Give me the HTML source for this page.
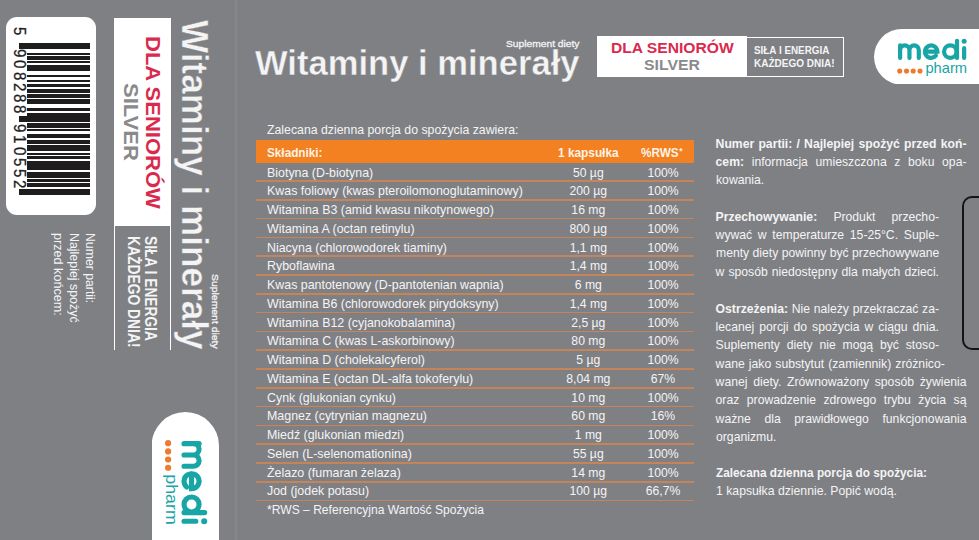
<!DOCTYPE html>
<html><head><meta charset="utf-8"><style>
html,body{margin:0;padding:0;width:979px;height:540px;overflow:hidden;background:#7f8084;font-family:"Liberation Sans", sans-serif;}
b{font-weight:700;}
</style></head><body><div style="position:relative;width:979px;height:540px;overflow:hidden;">
<div style='position:absolute;left:0.00px;top:0.00px;width:979.00px;height:540.00px;background:#7f8084;'></div><div style='position:absolute;left:235.40px;top:0.00px;width:2.00px;height:540.00px;background:#88868c;'></div><div style='position:absolute;left:5.50px;top:17.20px;width:90.70px;height:197.70px;background:#ffffff;border-radius:11px;'></div><div style='position:absolute;left:19.40px;top:42.98px;width:70.40px;height:2.24px;background:#1e1c1d;'></div><div style='position:absolute;left:19.40px;top:46.17px;width:70.40px;height:2.24px;background:#1e1c1d;'></div><div style='position:absolute;left:27.20px;top:52.56px;width:62.60px;height:2.24px;background:#1e1c1d;'></div><div style='position:absolute;left:27.20px;top:55.75px;width:62.60px;height:3.83px;background:#1e1c1d;'></div><div style='position:absolute;left:27.20px;top:60.54px;width:62.60px;height:2.24px;background:#1e1c1d;'></div><div style='position:absolute;left:27.20px;top:65.32px;width:62.60px;height:5.43px;background:#1e1c1d;'></div><div style='position:absolute;left:27.20px;top:74.90px;width:62.60px;height:2.24px;background:#1e1c1d;'></div><div style='position:absolute;left:27.20px;top:79.69px;width:62.60px;height:2.24px;background:#1e1c1d;'></div><div style='position:absolute;left:27.20px;top:84.48px;width:62.60px;height:2.24px;background:#1e1c1d;'></div><div style='position:absolute;left:27.20px;top:89.26px;width:62.60px;height:3.83px;background:#1e1c1d;'></div><div style='position:absolute;left:27.20px;top:94.05px;width:62.60px;height:3.83px;background:#1e1c1d;'></div><div style='position:absolute;left:27.20px;top:98.84px;width:62.60px;height:5.43px;background:#1e1c1d;'></div><div style='position:absolute;left:27.20px;top:108.42px;width:62.60px;height:2.24px;background:#1e1c1d;'></div><div style='position:absolute;left:27.20px;top:113.20px;width:62.60px;height:2.24px;background:#1e1c1d;'></div><div style='position:absolute;left:19.40px;top:116.40px;width:70.40px;height:2.24px;background:#1e1c1d;'></div><div style='position:absolute;left:19.40px;top:119.59px;width:70.40px;height:2.24px;background:#1e1c1d;'></div><div style='position:absolute;left:27.20px;top:122.78px;width:62.60px;height:5.43px;background:#1e1c1d;'></div><div style='position:absolute;left:27.20px;top:129.16px;width:62.60px;height:2.24px;background:#1e1c1d;'></div><div style='position:absolute;left:27.20px;top:133.95px;width:62.60px;height:3.83px;background:#1e1c1d;'></div><div style='position:absolute;left:27.20px;top:140.34px;width:62.60px;height:3.83px;background:#1e1c1d;'></div><div style='position:absolute;left:27.20px;top:145.12px;width:62.60px;height:5.43px;background:#1e1c1d;'></div><div style='position:absolute;left:27.20px;top:153.10px;width:62.60px;height:2.24px;background:#1e1c1d;'></div><div style='position:absolute;left:27.20px;top:156.30px;width:62.60px;height:2.24px;background:#1e1c1d;'></div><div style='position:absolute;left:27.20px;top:161.08px;width:62.60px;height:5.43px;background:#1e1c1d;'></div><div style='position:absolute;left:27.20px;top:167.47px;width:62.60px;height:2.24px;background:#1e1c1d;'></div><div style='position:absolute;left:27.20px;top:172.26px;width:62.60px;height:5.43px;background:#1e1c1d;'></div><div style='position:absolute;left:27.20px;top:178.64px;width:62.60px;height:3.83px;background:#1e1c1d;'></div><div style='position:absolute;left:27.20px;top:183.43px;width:62.60px;height:3.83px;background:#1e1c1d;'></div><div style='position:absolute;left:19.40px;top:189.81px;width:70.40px;height:2.24px;background:#1e1c1d;'></div><div style='position:absolute;left:19.40px;top:193.00px;width:70.40px;height:2.24px;background:#1e1c1d;'></div><div style='position:absolute;left:19.40px;top:43.10px;width:70.40px;height:5.60px;background:#1e1c1d;'></div><div style='position:absolute;left:27.20px;top:113.30px;width:62.60px;height:8.20px;background:#1e1c1d;'></div><div style='position:absolute;left:19.40px;top:116.00px;width:70.40px;height:5.50px;background:#1e1c1d;'></div><div style='position:absolute;left:19.40px;top:189.20px;width:70.40px;height:5.50px;background:#1e1c1d;'></div><div style='position:absolute;left:505.50px;top:38.03px;font-size:9.8px;font-weight:400;color:#f4f4f4;white-space:pre;line-height:normal;transform:scaleX(1.0460);transform-origin:0 0;-webkit-text-stroke:0.3px #f4f4f4;'>Suplement diety</div><div style='position:absolute;left:255.40px;top:43.08px;font-size:35.6px;font-weight:700;color:#f4f4f4;white-space:pre;line-height:normal;transform:scaleX(0.9721);transform-origin:0 0;-webkit-text-stroke:0.4px #7f8084;'>Witaminy i minerały</div><div style='position:absolute;left:596.80px;top:36.10px;width:150.30px;height:40.80px;background:#ffffff;'></div><div style='position:absolute;left:747.10px;top:36.60px;width:97.10px;height:40.50px;background:transparent;box-sizing:border-box;border:1.5px solid #fff;border-left:none;'></div><div style='position:absolute;left:610.50px;top:39.78px;font-size:14.5px;font-weight:700;color:#d92a4e;white-space:pre;line-height:normal;transform:scaleX(1.0776);transform-origin:0 0;'>DLA SENIORÓW</div><div style='position:absolute;left:643.80px;top:56.75px;font-size:14.2px;font-weight:700;color:#8a8a8c;white-space:pre;line-height:normal;transform:scaleX(1.1135);transform-origin:0 0;'>SILVER</div><div style='position:absolute;left:754.40px;top:43.81px;font-size:10.6px;font-weight:700;color:#f4f4f4;white-space:pre;line-height:normal;transform:scaleX(0.9327);transform-origin:0 0;'>SIŁA I ENERGIA</div><div style='position:absolute;left:754.40px;top:57.21px;font-size:10.6px;font-weight:700;color:#f4f4f4;white-space:pre;line-height:normal;transform:scaleX(0.9456);transform-origin:0 0;'>KAŻDEGO DNIA!</div><svg style='position:absolute;left:873.90px;top:28.60px;overflow:hidden' width='120.00' height='55.60' viewBox='0 0 120 55.6'><path d='M27.8,0 H200 V55.6 H27.8 A27.8,27.8 0 0 1 27.8,0 Z' fill='#fff'/><g fill='none' stroke='#17a5a6' stroke-width='4.2' stroke-linecap='round'><path d='M26.1,28.9 V16.4 M26.1,21.1 A4.675,4.675 0 0 1 35.45,21.1 V28.9 M35.45,21.1 A4.675,4.675 0 0 1 44.8,21.1 V28.9'/><path d='M50.95,22.65 H63.35 A6.2,6.2 0 1 0 61.9,26.64'/><circle cx='76.3' cy='22.65' r='6.2'/><path d='M83.0,11.8 V28.9 M90.15,19.1 V28.9'/></g><circle cx='90.15' cy='12.2' r='2.5' fill='#17a5a6'/><circle cx='25.7' cy='42.0' r='2.55' fill='#ef7a2e'/><circle cx='32.5' cy='42.0' r='2.55' fill='#ef7a2e'/><circle cx='39.2' cy='42.0' r='2.55' fill='#ef7a2e'/><circle cx='46.0' cy='42.0' r='2.55' fill='#ef7a2e'/><text x='51.4' y='43.7' font-family='Liberation Sans' font-size='14' fill='#17a5a6' textLength='41.6' lengthAdjust='spacingAndGlyphs'>pharm</text></svg><div style='position:absolute;left:266.50px;top:122.53px;font-size:12.4px;font-weight:400;color:#f4f4f4;white-space:pre;line-height:normal;transform:scaleX(0.9922);transform-origin:0 0;'>Zalecana dzienna porcja do spożycia zawiera:</div><div style='position:absolute;left:256.10px;top:140.20px;width:437.60px;height:22.80px;background:#f38021;'></div><div style='position:absolute;left:266.50px;top:145.98px;font-size:12.4px;font-weight:700;color:#fdf3e6;white-space:pre;line-height:normal;transform:scaleX(0.9482);transform-origin:0 0;'>Składniki:</div><div style='position:absolute;left:557.70px;top:145.98px;font-size:12.4px;font-weight:700;color:#fdf3e6;white-space:pre;line-height:normal;transform:scaleX(0.9562);transform-origin:0 0;'>1 kapsułka</div><div style='position:absolute;left:641.30px;top:145.98px;font-size:12.4px;font-weight:700;color:#fdf3e6;white-space:pre;line-height:normal;transform:scaleX(0.9470);transform-origin:0 0;'>%RWS</div><div style='position:absolute;left:679.20px;top:145.91px;font-size:8.5px;font-weight:700;color:#fdf3e6;white-space:pre;line-height:normal;'>*</div><div style='position:absolute;left:266.80px;top:165.56px;font-size:12.2px;font-weight:400;color:#f4f4f4;white-space:pre;line-height:normal;transform:scaleX(1.018);transform-origin:0 0;'>Biotyna (D-biotyna)</div><div style='position:absolute;left:588.30px;top:165.56px;font-size:12.2px;font-weight:400;color:#f4f4f4;white-space:pre;line-height:normal;transform:translateX(-50%);'>50 µg</div><div style='position:absolute;left:663.00px;top:165.56px;font-size:12.2px;font-weight:400;color:#f4f4f4;white-space:pre;line-height:normal;transform:translateX(-50%);'>100%</div><div style='position:absolute;left:256.10px;top:180.10px;width:437.60px;height:1.80px;background:#c6845a;'></div><div style='position:absolute;left:266.80px;top:184.31px;font-size:12.2px;font-weight:400;color:#f4f4f4;white-space:pre;line-height:normal;transform:scaleX(1.018);transform-origin:0 0;'>Kwas foliowy (kwas pteroilomonoglutaminowy)</div><div style='position:absolute;left:588.30px;top:184.31px;font-size:12.2px;font-weight:400;color:#f4f4f4;white-space:pre;line-height:normal;transform:translateX(-50%);'>200 µg</div><div style='position:absolute;left:663.00px;top:184.31px;font-size:12.2px;font-weight:400;color:#f4f4f4;white-space:pre;line-height:normal;transform:translateX(-50%);'>100%</div><div style='position:absolute;left:256.10px;top:198.90px;width:437.60px;height:1.80px;background:#c6845a;'></div><div style='position:absolute;left:266.80px;top:203.06px;font-size:12.2px;font-weight:400;color:#f4f4f4;white-space:pre;line-height:normal;transform:scaleX(1.018);transform-origin:0 0;'>Witamina B3 (amid kwasu nikotynowego)</div><div style='position:absolute;left:588.30px;top:203.06px;font-size:12.2px;font-weight:400;color:#f4f4f4;white-space:pre;line-height:normal;transform:translateX(-50%);'>16 mg</div><div style='position:absolute;left:663.00px;top:203.06px;font-size:12.2px;font-weight:400;color:#f4f4f4;white-space:pre;line-height:normal;transform:translateX(-50%);'>100%</div><div style='position:absolute;left:256.10px;top:217.70px;width:437.60px;height:1.80px;background:#c6845a;'></div><div style='position:absolute;left:266.80px;top:221.81px;font-size:12.2px;font-weight:400;color:#f4f4f4;white-space:pre;line-height:normal;transform:scaleX(1.018);transform-origin:0 0;'>Witamina A (octan retinylu)</div><div style='position:absolute;left:588.30px;top:221.81px;font-size:12.2px;font-weight:400;color:#f4f4f4;white-space:pre;line-height:normal;transform:translateX(-50%);'>800 µg</div><div style='position:absolute;left:663.00px;top:221.81px;font-size:12.2px;font-weight:400;color:#f4f4f4;white-space:pre;line-height:normal;transform:translateX(-50%);'>100%</div><div style='position:absolute;left:256.10px;top:236.50px;width:437.60px;height:1.80px;background:#c6845a;'></div><div style='position:absolute;left:266.80px;top:240.56px;font-size:12.2px;font-weight:400;color:#f4f4f4;white-space:pre;line-height:normal;transform:scaleX(1.018);transform-origin:0 0;'>Niacyna (chlorowodorek tiaminy)</div><div style='position:absolute;left:588.30px;top:240.56px;font-size:12.2px;font-weight:400;color:#f4f4f4;white-space:pre;line-height:normal;transform:translateX(-50%);'>1,1 mg</div><div style='position:absolute;left:663.00px;top:240.56px;font-size:12.2px;font-weight:400;color:#f4f4f4;white-space:pre;line-height:normal;transform:translateX(-50%);'>100%</div><div style='position:absolute;left:256.10px;top:255.30px;width:437.60px;height:1.80px;background:#c6845a;'></div><div style='position:absolute;left:266.80px;top:259.31px;font-size:12.2px;font-weight:400;color:#f4f4f4;white-space:pre;line-height:normal;transform:scaleX(1.018);transform-origin:0 0;'>Ryboflawina</div><div style='position:absolute;left:588.30px;top:259.31px;font-size:12.2px;font-weight:400;color:#f4f4f4;white-space:pre;line-height:normal;transform:translateX(-50%);'>1,4 mg</div><div style='position:absolute;left:663.00px;top:259.31px;font-size:12.2px;font-weight:400;color:#f4f4f4;white-space:pre;line-height:normal;transform:translateX(-50%);'>100%</div><div style='position:absolute;left:256.10px;top:274.10px;width:437.60px;height:1.80px;background:#c6845a;'></div><div style='position:absolute;left:266.80px;top:278.06px;font-size:12.2px;font-weight:400;color:#f4f4f4;white-space:pre;line-height:normal;transform:scaleX(1.018);transform-origin:0 0;'>Kwas pantotenowy (D-pantotenian wapnia)</div><div style='position:absolute;left:588.30px;top:278.06px;font-size:12.2px;font-weight:400;color:#f4f4f4;white-space:pre;line-height:normal;transform:translateX(-50%);'>6 mg</div><div style='position:absolute;left:663.00px;top:278.06px;font-size:12.2px;font-weight:400;color:#f4f4f4;white-space:pre;line-height:normal;transform:translateX(-50%);'>100%</div><div style='position:absolute;left:256.10px;top:292.90px;width:437.60px;height:1.80px;background:#c6845a;'></div><div style='position:absolute;left:266.80px;top:296.81px;font-size:12.2px;font-weight:400;color:#f4f4f4;white-space:pre;line-height:normal;transform:scaleX(1.018);transform-origin:0 0;'>Witamina B6 (chlorowodorek pirydoksyny)</div><div style='position:absolute;left:588.30px;top:296.81px;font-size:12.2px;font-weight:400;color:#f4f4f4;white-space:pre;line-height:normal;transform:translateX(-50%);'>1,4 mg</div><div style='position:absolute;left:663.00px;top:296.81px;font-size:12.2px;font-weight:400;color:#f4f4f4;white-space:pre;line-height:normal;transform:translateX(-50%);'>100%</div><div style='position:absolute;left:256.10px;top:311.70px;width:437.60px;height:1.80px;background:#c6845a;'></div><div style='position:absolute;left:266.80px;top:315.56px;font-size:12.2px;font-weight:400;color:#f4f4f4;white-space:pre;line-height:normal;transform:scaleX(1.018);transform-origin:0 0;'>Witamina B12 (cyjanokobalamina)</div><div style='position:absolute;left:588.30px;top:315.56px;font-size:12.2px;font-weight:400;color:#f4f4f4;white-space:pre;line-height:normal;transform:translateX(-50%);'>2,5 µg</div><div style='position:absolute;left:663.00px;top:315.56px;font-size:12.2px;font-weight:400;color:#f4f4f4;white-space:pre;line-height:normal;transform:translateX(-50%);'>100%</div><div style='position:absolute;left:256.10px;top:330.50px;width:437.60px;height:1.80px;background:#c6845a;'></div><div style='position:absolute;left:266.80px;top:334.31px;font-size:12.2px;font-weight:400;color:#f4f4f4;white-space:pre;line-height:normal;transform:scaleX(1.018);transform-origin:0 0;'>Witamina C (kwas L-askorbinowy)</div><div style='position:absolute;left:588.30px;top:334.31px;font-size:12.2px;font-weight:400;color:#f4f4f4;white-space:pre;line-height:normal;transform:translateX(-50%);'>80 mg</div><div style='position:absolute;left:663.00px;top:334.31px;font-size:12.2px;font-weight:400;color:#f4f4f4;white-space:pre;line-height:normal;transform:translateX(-50%);'>100%</div><div style='position:absolute;left:256.10px;top:349.30px;width:437.60px;height:1.80px;background:#c6845a;'></div><div style='position:absolute;left:266.80px;top:353.06px;font-size:12.2px;font-weight:400;color:#f4f4f4;white-space:pre;line-height:normal;transform:scaleX(1.018);transform-origin:0 0;'>Witamina D (cholekalcyferol)</div><div style='position:absolute;left:588.30px;top:353.06px;font-size:12.2px;font-weight:400;color:#f4f4f4;white-space:pre;line-height:normal;transform:translateX(-50%);'>5 µg</div><div style='position:absolute;left:663.00px;top:353.06px;font-size:12.2px;font-weight:400;color:#f4f4f4;white-space:pre;line-height:normal;transform:translateX(-50%);'>100%</div><div style='position:absolute;left:256.10px;top:368.10px;width:437.60px;height:1.80px;background:#c6845a;'></div><div style='position:absolute;left:266.80px;top:371.81px;font-size:12.2px;font-weight:400;color:#f4f4f4;white-space:pre;line-height:normal;transform:scaleX(1.018);transform-origin:0 0;'>Witamina E (octan DL-alfa tokoferylu)</div><div style='position:absolute;left:588.30px;top:371.81px;font-size:12.2px;font-weight:400;color:#f4f4f4;white-space:pre;line-height:normal;transform:translateX(-50%);'>8,04 mg</div><div style='position:absolute;left:663.00px;top:371.81px;font-size:12.2px;font-weight:400;color:#f4f4f4;white-space:pre;line-height:normal;transform:translateX(-50%);'>67%</div><div style='position:absolute;left:256.10px;top:386.90px;width:437.60px;height:1.80px;background:#c6845a;'></div><div style='position:absolute;left:266.80px;top:390.56px;font-size:12.2px;font-weight:400;color:#f4f4f4;white-space:pre;line-height:normal;transform:scaleX(1.018);transform-origin:0 0;'>Cynk (glukonian cynku)</div><div style='position:absolute;left:588.30px;top:390.56px;font-size:12.2px;font-weight:400;color:#f4f4f4;white-space:pre;line-height:normal;transform:translateX(-50%);'>10 mg</div><div style='position:absolute;left:663.00px;top:390.56px;font-size:12.2px;font-weight:400;color:#f4f4f4;white-space:pre;line-height:normal;transform:translateX(-50%);'>100%</div><div style='position:absolute;left:256.10px;top:405.70px;width:437.60px;height:1.80px;background:#c6845a;'></div><div style='position:absolute;left:266.80px;top:409.31px;font-size:12.2px;font-weight:400;color:#f4f4f4;white-space:pre;line-height:normal;transform:scaleX(1.018);transform-origin:0 0;'>Magnez (cytrynian magnezu)</div><div style='position:absolute;left:588.30px;top:409.31px;font-size:12.2px;font-weight:400;color:#f4f4f4;white-space:pre;line-height:normal;transform:translateX(-50%);'>60 mg</div><div style='position:absolute;left:663.00px;top:409.31px;font-size:12.2px;font-weight:400;color:#f4f4f4;white-space:pre;line-height:normal;transform:translateX(-50%);'>16%</div><div style='position:absolute;left:256.10px;top:424.50px;width:437.60px;height:1.80px;background:#c6845a;'></div><div style='position:absolute;left:266.80px;top:428.06px;font-size:12.2px;font-weight:400;color:#f4f4f4;white-space:pre;line-height:normal;transform:scaleX(1.018);transform-origin:0 0;'>Miedź (glukonian miedzi)</div><div style='position:absolute;left:588.30px;top:428.06px;font-size:12.2px;font-weight:400;color:#f4f4f4;white-space:pre;line-height:normal;transform:translateX(-50%);'>1 mg</div><div style='position:absolute;left:663.00px;top:428.06px;font-size:12.2px;font-weight:400;color:#f4f4f4;white-space:pre;line-height:normal;transform:translateX(-50%);'>100%</div><div style='position:absolute;left:256.10px;top:443.30px;width:437.60px;height:1.80px;background:#c6845a;'></div><div style='position:absolute;left:266.80px;top:446.81px;font-size:12.2px;font-weight:400;color:#f4f4f4;white-space:pre;line-height:normal;transform:scaleX(1.018);transform-origin:0 0;'>Selen (L-selenomationina)</div><div style='position:absolute;left:588.30px;top:446.81px;font-size:12.2px;font-weight:400;color:#f4f4f4;white-space:pre;line-height:normal;transform:translateX(-50%);'>55 µg</div><div style='position:absolute;left:663.00px;top:446.81px;font-size:12.2px;font-weight:400;color:#f4f4f4;white-space:pre;line-height:normal;transform:translateX(-50%);'>100%</div><div style='position:absolute;left:256.10px;top:462.10px;width:437.60px;height:1.80px;background:#c6845a;'></div><div style='position:absolute;left:266.80px;top:465.56px;font-size:12.2px;font-weight:400;color:#f4f4f4;white-space:pre;line-height:normal;transform:scaleX(1.018);transform-origin:0 0;'>Żelazo (fumaran żelaza)</div><div style='position:absolute;left:588.30px;top:465.56px;font-size:12.2px;font-weight:400;color:#f4f4f4;white-space:pre;line-height:normal;transform:translateX(-50%);'>14 mg</div><div style='position:absolute;left:663.00px;top:465.56px;font-size:12.2px;font-weight:400;color:#f4f4f4;white-space:pre;line-height:normal;transform:translateX(-50%);'>100%</div><div style='position:absolute;left:256.10px;top:480.90px;width:437.60px;height:1.80px;background:#c6845a;'></div><div style='position:absolute;left:266.80px;top:484.31px;font-size:12.2px;font-weight:400;color:#f4f4f4;white-space:pre;line-height:normal;transform:scaleX(1.018);transform-origin:0 0;'>Jod (jodek potasu)</div><div style='position:absolute;left:588.30px;top:484.31px;font-size:12.2px;font-weight:400;color:#f4f4f4;white-space:pre;line-height:normal;transform:translateX(-50%);'>100 µg</div><div style='position:absolute;left:663.00px;top:484.31px;font-size:12.2px;font-weight:400;color:#f4f4f4;white-space:pre;line-height:normal;transform:translateX(-50%);'>66,7%</div><div style='position:absolute;left:256.10px;top:499.70px;width:437.60px;height:1.80px;background:#c6845a;'></div><div style='position:absolute;left:266.50px;top:503.36px;font-size:12.2px;font-weight:400;color:#f4f4f4;white-space:pre;line-height:normal;transform:scaleX(0.9919);transform-origin:0 0;'>*RWS – Referencyjna Wartość Spożycia</div><div style='position:absolute;left:715.6px;top:136.76px;width:250.90px;font-size:12.2px;color:#f4f4f4;white-space:nowrap;line-height:normal;text-align:justify;text-align-last:justify;'><b>Numer partii: / Najlepiej spożyć przed koń-</b></div><div style='position:absolute;left:715.6px;top:154.86px;width:250.90px;font-size:12.2px;color:#f4f4f4;white-space:nowrap;line-height:normal;text-align:justify;text-align-last:justify;'><b>cem:</b> informacja umieszczona z boku opa-</div><div style='position:absolute;left:715.6px;top:172.96px;width:223.40px;font-size:12.2px;color:#f4f4f4;white-space:nowrap;line-height:normal;transform:scaleX(1.0010655737704919);transform-origin:0 0;'>kowania.</div><div style='position:absolute;left:715.6px;top:209.76px;width:223.40px;font-size:12.2px;color:#f4f4f4;white-space:nowrap;line-height:normal;text-align:justify;text-align-last:justify;'><b>Przechowywanie:</b> Produkt przecho-</div><div style='position:absolute;left:715.6px;top:228.16px;width:223.40px;font-size:12.2px;color:#f4f4f4;white-space:nowrap;line-height:normal;text-align:justify;text-align-last:justify;'>wywać w temperaturze 15-25°C. Suple-</div><div style='position:absolute;left:715.6px;top:246.46px;width:223.55px;font-size:12.2px;color:#f4f4f4;white-space:nowrap;line-height:normal;transform:scaleX(0.9993);transform-origin:0 0;'>menty diety powinny być przechowywane</div><div style='position:absolute;left:715.6px;top:264.76px;width:223.40px;font-size:12.2px;color:#f4f4f4;white-space:nowrap;line-height:normal;text-align:justify;text-align-last:justify;'>w sposób niedostępny dla małych dzieci.</div><div style='position:absolute;left:715.6px;top:301.96px;width:223.40px;font-size:12.2px;color:#f4f4f4;white-space:nowrap;line-height:normal;text-align:justify;text-align-last:justify;'><b>Ostrzeżenia:</b> Nie należy przekraczać za-</div><div style='position:absolute;left:715.6px;top:320.26px;width:223.40px;font-size:12.2px;color:#f4f4f4;white-space:nowrap;line-height:normal;text-align:justify;text-align-last:justify;'>lecanej porcji do spożycia w ciągu dnia.</div><div style='position:absolute;left:715.6px;top:338.46px;width:223.40px;font-size:12.2px;color:#f4f4f4;white-space:nowrap;line-height:normal;text-align:justify;text-align-last:justify;'>Suplementy diety nie mogą być stoso-</div><div style='position:absolute;left:715.6px;top:356.66px;width:229.20px;font-size:12.2px;color:#f4f4f4;white-space:nowrap;line-height:normal;text-align:justify;text-align-last:justify;'>wane jako substytut (zamiennik) zróżnico-</div><div style='position:absolute;left:715.6px;top:374.96px;width:250.90px;font-size:12.2px;color:#f4f4f4;white-space:nowrap;line-height:normal;text-align:justify;text-align-last:justify;'>wanej diety. Zrównoważony sposób żywienia</div><div style='position:absolute;left:715.6px;top:393.26px;width:250.90px;font-size:12.2px;color:#f4f4f4;white-space:nowrap;line-height:normal;text-align:justify;text-align-last:justify;'>oraz prowadzenie zdrowego trybu życia są</div><div style='position:absolute;left:715.6px;top:411.56px;width:250.90px;font-size:12.2px;color:#f4f4f4;white-space:nowrap;line-height:normal;text-align:justify;text-align-last:justify;'>ważne dla prawidłowego funkcjonowania</div><div style='position:absolute;left:715.6px;top:429.86px;width:250.90px;font-size:12.2px;color:#f4f4f4;white-space:nowrap;line-height:normal;transform:scaleX(1.0010655737704919);transform-origin:0 0;'>organizmu.</div><div style='position:absolute;left:715.6px;top:466.16px;width:250.90px;font-size:12.2px;color:#f4f4f4;white-space:nowrap;line-height:normal;transform:scaleX(0.9672131147540984);transform-origin:0 0;'><b>Zalecana dzienna porcja do spożycia:</b></div><div style='position:absolute;left:715.6px;top:484.26px;width:250.90px;font-size:12.2px;color:#f4f4f4;white-space:nowrap;line-height:normal;transform:scaleX(1.0039672131147543);transform-origin:0 0;'>1 kapsułka dziennie. Popić wodą.</div><div style='position:absolute;left:962.30px;top:196.20px;width:37.70px;height:153.40px;background:transparent;box-sizing:border-box;border:2.6px solid #141414;border-right:none;border-radius:10px 0 0 10px;'></div><div style='position:absolute;left:236.0px;top:0;width:0;height:0;transform:rotate(90deg);transform-origin:0 0;'><div style='position:absolute;left:27.20px;top:207.02px;font-size:17px;font-weight:400;color:#1e1c1d;white-space:pre;line-height:normal;transform:scaleX(0.8871);transform-origin:0 0;-webkit-text-stroke:0.3px #1e1c1d;'>5</div><div style='position:absolute;left:49.27px;top:207.02px;font-size:17px;font-weight:400;color:#1e1c1d;white-space:pre;line-height:normal;transform:scaleX(0.8871);transform-origin:0 0;-webkit-text-stroke:0.3px #1e1c1d;'>9</div><div style='position:absolute;left:60.45px;top:207.02px;font-size:17px;font-weight:400;color:#1e1c1d;white-space:pre;line-height:normal;transform:scaleX(0.8871);transform-origin:0 0;-webkit-text-stroke:0.3px #1e1c1d;'>0</div><div style='position:absolute;left:71.62px;top:207.02px;font-size:17px;font-weight:400;color:#1e1c1d;white-space:pre;line-height:normal;transform:scaleX(0.8871);transform-origin:0 0;-webkit-text-stroke:0.3px #1e1c1d;'>8</div><div style='position:absolute;left:82.79px;top:207.02px;font-size:17px;font-weight:400;color:#1e1c1d;white-space:pre;line-height:normal;transform:scaleX(0.8871);transform-origin:0 0;-webkit-text-stroke:0.3px #1e1c1d;'>2</div><div style='position:absolute;left:93.96px;top:207.02px;font-size:17px;font-weight:400;color:#1e1c1d;white-space:pre;line-height:normal;transform:scaleX(0.8871);transform-origin:0 0;-webkit-text-stroke:0.3px #1e1c1d;'>8</div><div style='position:absolute;left:105.13px;top:207.02px;font-size:17px;font-weight:400;color:#1e1c1d;white-space:pre;line-height:normal;transform:scaleX(0.8871);transform-origin:0 0;-webkit-text-stroke:0.3px #1e1c1d;'>8</div><div style='position:absolute;left:124.29px;top:207.02px;font-size:17px;font-weight:400;color:#1e1c1d;white-space:pre;line-height:normal;transform:scaleX(0.8871);transform-origin:0 0;-webkit-text-stroke:0.3px #1e1c1d;'>9</div><div style='position:absolute;left:135.46px;top:207.02px;font-size:17px;font-weight:400;color:#1e1c1d;white-space:pre;line-height:normal;transform:scaleX(0.8871);transform-origin:0 0;-webkit-text-stroke:0.3px #1e1c1d;'>1</div><div style='position:absolute;left:146.63px;top:207.02px;font-size:17px;font-weight:400;color:#1e1c1d;white-space:pre;line-height:normal;transform:scaleX(0.8871);transform-origin:0 0;-webkit-text-stroke:0.3px #1e1c1d;'>0</div><div style='position:absolute;left:157.80px;top:207.02px;font-size:17px;font-weight:400;color:#1e1c1d;white-space:pre;line-height:normal;transform:scaleX(0.8871);transform-origin:0 0;-webkit-text-stroke:0.3px #1e1c1d;'>5</div><div style='position:absolute;left:168.97px;top:207.02px;font-size:17px;font-weight:400;color:#1e1c1d;white-space:pre;line-height:normal;transform:scaleX(0.8871);transform-origin:0 0;-webkit-text-stroke:0.3px #1e1c1d;'>5</div><div style='position:absolute;left:180.15px;top:207.02px;font-size:17px;font-weight:400;color:#1e1c1d;white-space:pre;line-height:normal;transform:scaleX(0.8871);transform-origin:0 0;-webkit-text-stroke:0.3px #1e1c1d;'>2</div><div style='position:absolute;left:20.30px;top:21.42px;font-size:36px;font-weight:700;color:#f4f4f4;white-space:pre;line-height:normal;transform:scaleX(0.9758);transform-origin:0 0;-webkit-text-stroke:0.4px #7f8084;'>Witaminy i minerały</div><div style='position:absolute;left:273.60px;top:15.13px;font-size:9.8px;font-weight:400;color:#f4f4f4;white-space:pre;line-height:normal;transform:scaleX(1.0631);transform-origin:0 0;-webkit-text-stroke:0.3px #f4f4f4;'>Suplement diety</div><div style='position:absolute;left:17.80px;top:64.80px;width:208.50px;height:57.20px;background:#ffffff;'></div><div style='position:absolute;left:226.30px;top:65.20px;width:123.30px;height:56.60px;background:transparent;box-sizing:border-box;border:1.7px solid #fff;border-left:none;border-right:none;'></div><div style='position:absolute;left:35.60px;top:70.90px;font-size:21px;font-weight:700;color:#d92a4e;white-space:pre;line-height:normal;transform:scaleX(1.0486);transform-origin:0 0;'>DLA SENIORÓW</div><div style='position:absolute;left:83.30px;top:93.09px;font-size:21px;font-weight:700;color:#8a8a8c;white-space:pre;line-height:normal;transform:scaleX(1.0472);transform-origin:0 0;'>SILVER</div><div style='position:absolute;left:235.60px;top:75.87px;font-size:16.5px;font-weight:700;color:#f4f4f4;white-space:pre;line-height:normal;transform:scaleX(0.8324);transform-origin:0 0;'>SIŁA I ENERGIA</div><div style='position:absolute;left:235.60px;top:92.67px;font-size:16.5px;font-weight:700;color:#f4f4f4;white-space:pre;line-height:normal;transform:scaleX(0.8388);transform-origin:0 0;'>KAŻDEGO DNIA!</div><div style='position:absolute;left:232.60px;top:138.24px;font-size:13px;font-weight:400;color:#f4f4f4;white-space:pre;line-height:normal;transform:scaleX(0.9433);transform-origin:0 0;'>Numer partii:</div><div style='position:absolute;left:232.60px;top:154.04px;font-size:13px;font-weight:400;color:#f4f4f4;white-space:pre;line-height:normal;transform:scaleX(0.9538);transform-origin:0 0;'>Najlepiej spożyć</div><div style='position:absolute;left:232.60px;top:169.94px;font-size:13px;font-weight:400;color:#f4f4f4;white-space:pre;line-height:normal;transform:scaleX(0.9711);transform-origin:0 0;'>przed końcem:</div><svg style='position:absolute;left:412.40px;top:16.60px;overflow:hidden' width='145.44' height='67.39' viewBox='0 0 120 55.6'><path d='M27.8,0 H200 V55.6 H27.8 A27.8,27.8 0 0 1 27.8,0 Z' fill='#fff'/><g fill='none' stroke='#17a5a6' stroke-width='4.2' stroke-linecap='round'><path d='M26.1,28.9 V16.4 M26.1,21.1 A4.675,4.675 0 0 1 35.45,21.1 V28.9 M35.45,21.1 A4.675,4.675 0 0 1 44.8,21.1 V28.9'/><path d='M50.95,22.65 H63.35 A6.2,6.2 0 1 0 61.9,26.64'/><circle cx='76.3' cy='22.65' r='6.2'/><path d='M83.0,11.8 V28.9 M90.15,19.1 V28.9'/></g><circle cx='90.15' cy='12.2' r='2.5' fill='#17a5a6'/><circle cx='25.7' cy='42.0' r='2.55' fill='#ef7a2e'/><circle cx='32.5' cy='42.0' r='2.55' fill='#ef7a2e'/><circle cx='39.2' cy='42.0' r='2.55' fill='#ef7a2e'/><circle cx='46.0' cy='42.0' r='2.55' fill='#ef7a2e'/><text x='51.4' y='43.7' font-family='Liberation Sans' font-size='14' fill='#17a5a6' textLength='41.6' lengthAdjust='spacingAndGlyphs'>pharm</text></svg></div>
</div></body></html>
